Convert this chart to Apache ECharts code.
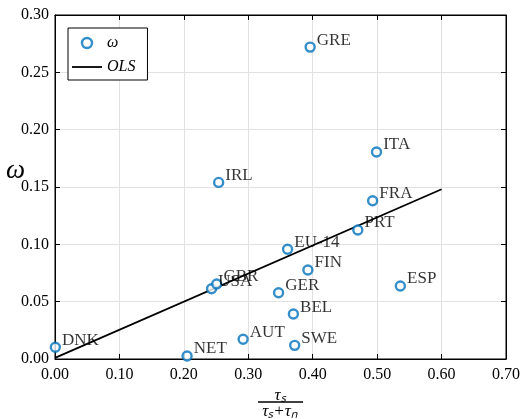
<!DOCTYPE html>
<html><head><meta charset="utf-8">
<script src="https://cdn.jsdelivr.net/npm/echarts@6/dist/echarts.min.js"></script>
<style>html,body{margin:0;padding:0;background:#fff}#c{width:524px;height:419px}</style>
</head><body><div id="c"></div>
<script>
var countries = ['GRE','ITA','IRL','FRA','PRT','EU-14','FIN','ESP','GER','BEL','AUT','SWE','NET','DNK','USA','GBR'];
var xVals = [0.396,0.499,0.254,0.493,0.470,0.361,0.3925,0.536,0.347,0.370,0.292,0.372,0.205,0.0005,0.243,0.251];
var yVals = [0.272,0.1805,0.154,0.138,0.1125,0.0957,0.0776,0.0637,0.0578,0.0392,0.0172,0.0119,0.0026,0.0102,0.0613,0.0654];
var olsX = [0.0, 0.6];
var olsY = [0.001, 0.148];

var FONT = 'Liberation Serif';
var BLUE = '#0072BD';
var chart = echarts.init(document.getElementById('c'), null, {renderer:'canvas'});
var pts = countries.map(function(n,i){return [xVals[i], yVals[i], n];});
var ols = olsX.map(function(x,i){return [x, olsY[i]];});
function ax(extra){
  return Object.assign({
    type:'value',
    axisLine:{show:true, onZero:false, lineStyle:{color:'#000', width:1}},
    axisTick:{show:true, inside:true, length:5, lineStyle:{color:'#000', width:1}}
  }, extra);
}
var lblFmt = function(v){return v.toFixed(2);};
chart.setOption({
  animation:false,
  backgroundColor:'#fff',
  grid:{left:55, right:18, top:15, bottom:60, show:true, borderColor:'#000', borderWidth:1, backgroundColor:'transparent'},
  legend:{
    left:68, top:28, orient:'vertical', padding:[7,12,5,4], itemGap:8,
    itemWidth:30, itemHeight:10,
    borderColor:'#000', borderWidth:1, backgroundColor:'#fff',
    textStyle:{fontFamily:FONT, fontStyle:'italic', fontSize:16, color:'#000'},
    data:[
      {name:'ω', icon:'circle', itemStyle:{color:'#fff', borderColor:BLUE, borderWidth:2.4}},
      {name:'OLS', icon:'path://M0,0 L30,0 L30,1.8 L0,1.8 Z', itemStyle:{color:'#000', borderWidth:0}}
    ]
  },
  xAxis:[
    ax({min:0, max:0.7, interval:0.1, position:'bottom',
      axisLabel:{fontFamily:FONT, fontSize:16, color:'#000', margin:8, formatter:lblFmt},
      splitLine:{show:true, lineStyle:{color:'#e2e2e2', width:1}}}),
    ax({min:0, max:0.7, interval:0.1, position:'top',
      axisLabel:{show:false}, splitLine:{show:false}})
  ],
  yAxis:[
    ax({min:0, max:0.3, interval:0.05, position:'left',
      axisLabel:{fontFamily:FONT, fontSize:16, color:'#000', margin:6, formatter:lblFmt},
      splitLine:{show:true, lineStyle:{color:'#e2e2e2', width:1}}}),
    ax({min:0, max:0.3, interval:0.05, position:'right',
      axisLabel:{show:false}, splitLine:{show:false}})
  ],
  series:[
    {name:'ω', type:'scatter', data:pts, symbol:'circle', symbolSize:9,
     itemStyle:{color:'#fff', borderColor:BLUE, borderWidth:2.4},
     label:{show:true, position:'right', distance:1, offset:[0,-7],
       fontFamily:FONT, fontSize:17, color:'#000',
       formatter:function(p){return p.data[2];}},
     z:3},
    {name:'OLS', type:'line', data:ols, symbol:'none', showSymbol:false,
     lineStyle:{color:'#000', width:1.8}, itemStyle:{color:'#000'}, z:2}
  ],
  graphic:[
    {type:'text', left:6, top:157, style:{text:'ω', font:'italic 27px "'+FONT+'"', fill:'#000'}},
    {type:'text', x:280, y:396, style:{text:'τₛ', font:'italic 17px "'+FONT+'"', fill:'#000', align:'center', verticalAlign:'middle'}},
    {type:'line', shape:{x1:258, y1:402, x2:303, y2:402}, style:{stroke:'#000', lineWidth:1.5}},
    {type:'text', x:280, y:412, style:{text:'τₛ+τₙ', font:'italic 17px "'+FONT+'"', fill:'#000', align:'center', verticalAlign:'middle'}}
  ]
});
</script></body></html>
